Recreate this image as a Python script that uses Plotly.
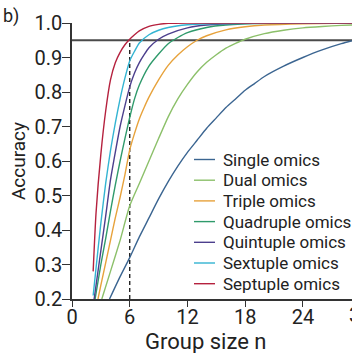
import plotly.graph_objects as go

# ---- data ----
series_names = ["Single omics", "Dual omics", "Triple omics", "Quadruple omics",
                "Quintuple omics", "Sextuple omics", "Septuple omics"]

n_single = [3.9, 5, 6, 7, 8, 9, 10, 11, 12, 13, 14, 15, 16, 17, 18, 19, 20, 22, 24, 26, 28, 30]
acc_single = [0.2, 0.265, 0.32, 0.38, 0.435, 0.49, 0.54, 0.585, 0.625, 0.66, 0.695, 0.725,
              0.755, 0.78, 0.805, 0.825, 0.845, 0.875, 0.90, 0.922, 0.94, 0.955]

n_dual = [3.1, 4, 5, 6, 7, 8, 9, 10, 11, 12, 13, 14, 15, 16, 17, 18, 20, 22, 24, 26, 28, 30]
acc_dual = [0.2, 0.28, 0.37, 0.47, 0.535, 0.60, 0.665, 0.728, 0.78, 0.822, 0.858, 0.886,
            0.908, 0.927, 0.941, 0.953, 0.969, 0.979, 0.986, 0.99, 0.993, 0.995]

n_triple = [2.7, 3, 3.5, 4, 4.5, 5, 5.5, 6, 6.5, 7, 7.5, 8, 9, 10, 11, 12, 13, 14, 16, 18, 20, 24, 30]
acc_triple = [0.2, 0.24, 0.305, 0.37, 0.435, 0.495, 0.56, 0.632, 0.68, 0.722, 0.755, 0.785,
              0.835, 0.877, 0.907, 0.931, 0.95, 0.963, 0.98, 0.989, 0.994, 0.998, 1.0]

n_quad = [2.4, 3, 3.5, 4, 4.5, 5, 5.5, 6, 6.5, 7, 8, 9, 10, 11, 12, 14, 16, 20, 30]
acc_quad = [0.2, 0.3, 0.375, 0.455, 0.53, 0.6, 0.665, 0.726, 0.78, 0.82, 0.875, 0.91, 0.94,
            0.958, 0.972, 0.987, 0.994, 0.999, 1.0]

n_quint = [2.3, 3, 3.5, 4, 4.5, 5, 5.5, 6, 6.5, 7, 7.5, 8, 9, 10, 12, 14, 18, 30]
acc_quint = [0.2, 0.34, 0.44, 0.545, 0.625, 0.70, 0.76, 0.815, 0.855, 0.885, 0.908, 0.928,
             0.953, 0.968, 0.986, 0.994, 0.999, 1.0]

n_sext = [2.2, 2.5, 3, 3.5, 4, 4.5, 5, 5.5, 6, 6.5, 7, 8, 9, 10, 12, 14, 30]
acc_sext = [0.21, 0.29, 0.42, 0.535, 0.63, 0.71, 0.78, 0.84, 0.89, 0.918, 0.942, 0.966,
            0.979, 0.987, 0.995, 0.998, 1.0]

n_sept = [2.2, 2.5, 3, 3.5, 4, 4.5, 5, 5.5, 6, 6.5, 7, 8, 9, 10, 12, 30]
acc_sept = [0.28, 0.45, 0.62, 0.745, 0.835, 0.885, 0.915, 0.937, 0.953, 0.966, 0.977, 0.99,
            0.996, 0.999, 1.0, 1.0]

threshold_acc = 0.95
threshold_n = 6
x_ticks = [0, 6, 12, 18, 24]
y_ticks = [0.2, 0.3, 0.4, 0.5, 0.6, 0.7, 0.8, 0.9, 1.0]

colors = ["#3b6591", "#8cc06a", "#e7a23b", "#2f9a6b", "#4c3f8d", "#33b4d2", "#b5213e"]
xs = [n_single, n_dual, n_triple, n_quad, n_quint, n_sext, n_sept]
ys = [acc_single, acc_dual, acc_triple, acc_quad, acc_quint, acc_sext, acc_sept]

FONT = "Roboto"
TXT = "#222222"
W, H = 352, 353
ML, MR, MT, MB = 72, 0, 23, 54
PW, PH = W - ML - MR, H - MT - MB
PX_PER_UNIT = 9.62


def px_x(p):
    return (p - ML) / PW


def px_y(p):
    return (H - MB - p) / PH


fig = go.Figure()

# reference lines
fig.add_trace(go.Scatter(x=[0, 31], y=[threshold_acc, threshold_acc], mode="lines",
                         line=dict(color="#4a4a4a", width=2), showlegend=False,
                         hoverinfo="skip"))
fig.add_trace(go.Scatter(x=[threshold_n, threshold_n], y=[0.2, threshold_acc], mode="lines",
                         line=dict(color="#222222", width=1.4, dash="4px,3px"),
                         showlegend=False, hoverinfo="skip"))

for name, x, y, c in zip(series_names, xs, ys, colors):
    fig.add_trace(go.Scatter(x=x, y=y, mode="lines", name=name, showlegend=False,
                             line=dict(color=c, width=1.4, shape="spline", smoothing=0.6)))

# hand-built legend (compact rows like the reference)
shapes = []
annotations = []
row0, row_gap = 159.5, 20.7
for i, (name, c) in enumerate(zip(series_names, colors)):
    yc = row0 + i * row_gap
    shapes.append(dict(type="line", xref="paper", yref="paper",
                       x0=px_x(194), x1=px_x(215), y0=px_y(yc), y1=px_y(yc),
                       line=dict(color=c, width=1.4)))
    annotations.append(dict(text=name, xref="paper", yref="paper", x=px_x(221), y=px_y(yc),
                            xanchor="left", yanchor="middle", showarrow=False,
                            font=dict(family=FONT, size=17, color=TXT)))

annotations.append(dict(text="b)", xref="paper", yref="paper", x=px_x(1), y=px_y(16),
                        xanchor="left", yanchor="middle", showarrow=False,
                        font=dict(family=FONT, size=18, color=TXT)))
# partially visible "30" tick label at the right edge, as in the reference
annotations.append(dict(text="30", xref="paper", yref="paper", x=px_x(347), y=px_y(315),
                        xanchor="left", yanchor="middle", showarrow=False,
                        font=dict(family=FONT, size=20, color=TXT)))
# x-axis title as an annotation for exact placement
annotations.append(dict(text="Group size n", xref="paper", yref="paper", x=px_x(205),
                        y=px_y(341), xanchor="center", yanchor="middle", showarrow=False,
                        font=dict(family=FONT, size=22, color=TXT)))

fig.update_layout(
    width=W, height=H,
    margin=dict(l=ML, r=MR, t=MT, b=MB),
    paper_bgcolor="white", plot_bgcolor="white",
    font=dict(family=FONT, color=TXT),
    showlegend=False,
    shapes=shapes,
    annotations=annotations,
)

fig.update_xaxes(range=[0, PW / PX_PER_UNIT], tickvals=x_ticks, ticks="outside", ticklen=6,
                 tickwidth=1.3, tickcolor="#333333", showline=True, linecolor="#333333",
                 linewidth=1.5, showgrid=False, zeroline=False, ticklabelstandoff=-7,
                 tickfont=dict(family=FONT, size=20, color=TXT))
fig.update_yaxes(range=[0.2, 1.0], tickvals=y_ticks, tickformat=".1f", ticks="outside",
                 ticklen=8, tickwidth=1.3, tickcolor="#333333", showline=True,
                 linecolor="#333333", linewidth=1.5, showgrid=False, zeroline=False,
                 ticklabelstandoff=-4,
                 tickfont=dict(family=FONT, size=20, color=TXT),
                 title=dict(text="Accuracy", font=dict(family=FONT, size=19, color=TXT),
                            standoff=4))

fig.write_html("out.html")
